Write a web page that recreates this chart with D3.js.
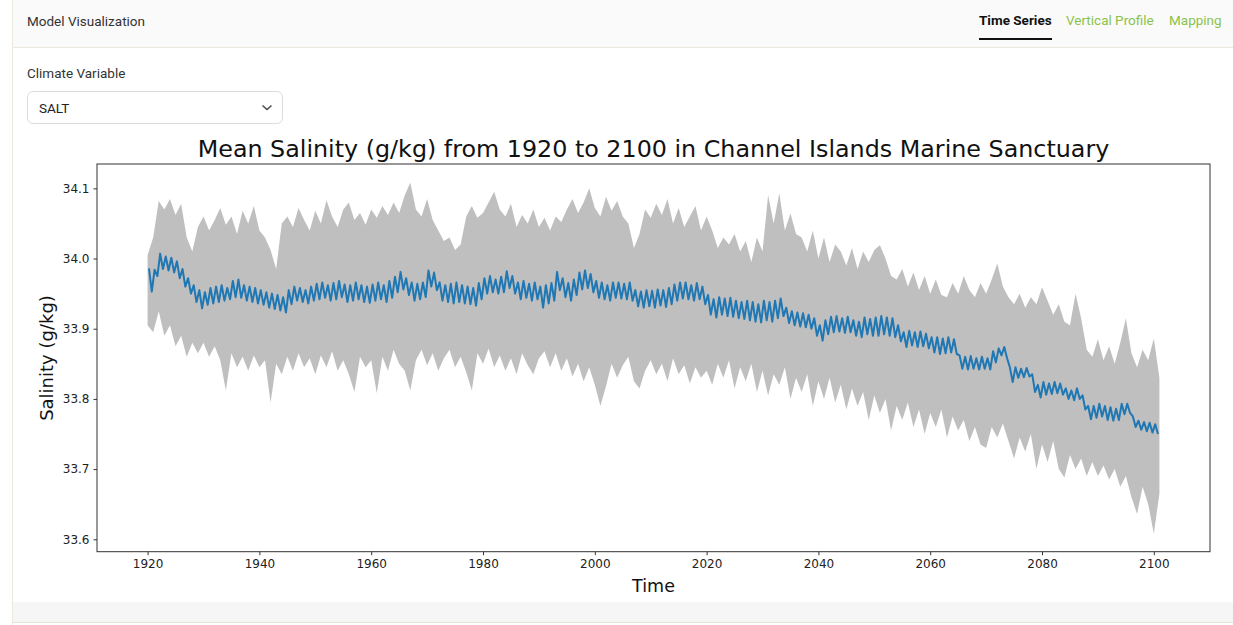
<!DOCTYPE html>
<html>
<head>
<meta charset="utf-8">
<script src="https://cdn.jsdelivr.net/npm/d3@7"></script>
<style>
  body { margin: 0; width: 1233px; height: 625px; overflow: hidden; background: #fff; position: relative;
         font-family: Roboto, "Noto Sans", sans-serif; }
  .card { position: absolute; left: 12px; top: 0; width: 1221px; height: 625px; border-left: 1px solid #ebe7dd; }
  .header { position: absolute; left: 13px; top: 0; width: 1220px; height: 47px; background: #fafafa;
            border-bottom: 1px solid #ece8dc; }
  .title { position: absolute; left: 27px; top: 13px; font-size: 13.5px; color: #333; }
  .tab { position: absolute; top: 12px; font-size: 13.5px; color: #8bc34a; }
  .tab.active { color: #111; font-weight: 700; }
  .tab.active:after { content: ""; position: absolute; left: 0; right: 0; top: 26px; height: 2px; background: #111; }
  .label { position: absolute; left: 27px; top: 65px; font-size: 13.5px; color: #333; }
  .select { position: absolute; left: 27px; top: 91px; width: 256px; height: 33px; border: 1px solid #dcdcdc;
            border-radius: 6px; box-sizing: border-box; background: #fff; }
  .select span { position: absolute; left: 11px; top: 8px; font-size: 13.5px; color: #222; }
  .footer { position: absolute; left: 13px; top: 602px; width: 1220px; height: 20px; background: #f6f6f6;
            border-bottom: 1px solid #e6e2d8; }
  #chart { position: absolute; left: 0; top: 0; }
</style>
</head>
<body>
<div class="card"></div>
<div class="header"></div>
<div class="title">Model Visualization</div>
<div class="tab active" style="left:979px">Time Series</div>
<div class="tab" style="left:1066px">Vertical Profile</div>
<div class="tab" style="left:1169px">Mapping</div>
<div class="label">Climate Variable</div>
<div class="select"><span>SALT</span>
  <svg width="12" height="8" style="position:absolute;left:233px;top:12px">
    <path d="M1.5 1.5 L6 5.5 L10.5 1.5" fill="none" stroke="#444" stroke-width="1.4"/>
  </svg>
</div>
<div class="footer"></div>
<svg id="chart" width="1233" height="625"></svg>
<script>
// annual seasonal peak / trough of the monthly mean salinity, 1920..2100
const meanHigh = [
  33.986, 33.984, 34.007, 34.003, 34.001, 33.996, 33.985, 33.972, 33.962, 33.955,
  33.952, 33.958, 33.960, 33.962, 33.958, 33.968, 33.970, 33.962, 33.960, 33.958,
  33.955, 33.952, 33.950, 33.948, 33.945, 33.955, 33.960, 33.958, 33.955, 33.960,
  33.964, 33.966, 33.962, 33.965, 33.968, 33.963, 33.962, 33.966, 33.962, 33.960,
  33.963, 33.966, 33.962, 33.968, 33.974, 33.981, 33.972, 33.966, 33.964, 33.966,
  33.983, 33.980, 33.966, 33.962, 33.964, 33.966, 33.962, 33.960, 33.958, 33.965,
  33.972, 33.975, 33.970, 33.974, 33.982, 33.975, 33.966, 33.968, 33.964, 33.966,
  33.960, 33.962, 33.965, 33.981, 33.972, 33.965, 33.970, 33.980, 33.983, 33.978,
  33.968, 33.966, 33.962, 33.966, 33.966, 33.964, 33.966, 33.955, 33.953, 33.955,
  33.954, 33.956, 33.955, 33.958, 33.963, 33.966, 33.966, 33.962, 33.965, 33.960,
  33.948, 33.942, 33.945, 33.943, 33.944, 33.940, 33.938, 33.940, 33.938, 33.935,
  33.940, 33.938, 33.940, 33.943, 33.930, 33.925, 33.923, 33.922, 33.920, 33.915,
  33.905, 33.912, 33.917, 33.918, 33.915, 33.917, 33.912, 33.910, 33.916, 33.914,
  33.916, 33.918, 33.916, 33.915, 33.905, 33.895, 33.897, 33.895, 33.896, 33.893,
  33.888, 33.888, 33.886, 33.888, 33.885, 33.862, 33.860, 33.861, 33.858, 33.860,
  33.858, 33.868, 33.872, 33.874, 33.845, 33.845, 33.843, 33.844, 33.835, 33.820,
  33.824, 33.822, 33.824, 33.822, 33.815, 33.812, 33.815, 33.805, 33.790, 33.790,
  33.793, 33.790, 33.788, 33.786, 33.793, 33.793, 33.775, 33.769, 33.767, 33.766,
  33.764
];
const meanLow = [
  33.953, 33.975, 33.985, 33.983, 33.980, 33.972, 33.960, 33.950, 33.938, 33.929,
  33.934, 33.936, 33.938, 33.940, 33.942, 33.945, 33.944, 33.940, 33.938, 33.936,
  33.934, 33.930, 33.928, 33.926, 33.923, 33.935, 33.940, 33.938, 33.936, 33.940,
  33.942, 33.944, 33.940, 33.942, 33.945, 33.938, 33.940, 33.942, 33.938, 33.937,
  33.940, 33.942, 33.938, 33.944, 33.952, 33.956, 33.948, 33.940, 33.942, 33.945,
  33.960, 33.955, 33.940, 33.938, 33.936, 33.938, 33.936, 33.935, 33.933, 33.942,
  33.950, 33.952, 33.950, 33.952, 33.958, 33.950, 33.942, 33.944, 33.940, 33.942,
  33.930, 33.936, 33.940, 33.955, 33.945, 33.940, 33.948, 33.956, 33.958, 33.952,
  33.944, 33.942, 33.940, 33.944, 33.943, 33.942, 33.940, 33.932, 33.930, 33.932,
  33.930, 33.933, 33.931, 33.935, 33.940, 33.943, 33.942, 33.940, 33.942, 33.935,
  33.920, 33.916, 33.920, 33.918, 33.917, 33.915, 33.914, 33.912, 33.910, 33.909,
  33.912, 33.910, 33.915, 33.918, 33.908, 33.905, 33.903, 33.902, 33.900, 33.890,
  33.883, 33.892, 33.895, 33.896, 33.894, 33.895, 33.890, 33.888, 33.892, 33.890,
  33.890, 33.892, 33.890, 33.888, 33.882, 33.874, 33.876, 33.874, 33.875, 33.872,
  33.866, 33.864, 33.865, 33.866, 33.864, 33.843, 33.842, 33.843, 33.842, 33.843,
  33.842, 33.852, 33.862, 33.858, 33.824, 33.830, 33.831, 33.832, 33.810, 33.802,
  33.806, 33.807, 33.808, 33.806, 33.800, 33.798, 33.800, 33.785, 33.771, 33.773,
  33.775, 33.770, 33.769, 33.770, 33.778, 33.780, 33.760, 33.756, 33.754, 33.752,
  33.750
];
// spread of the monthly values (upper / lower edge), one value per year 1920..2101
const bandUpper = [
  34.005, 34.030, 34.082, 34.070, 34.085, 34.062, 34.078, 34.030, 34.010, 34.045,
  34.060, 34.040, 34.055, 34.072, 34.048, 34.060, 34.035, 34.068, 34.050, 34.075,
  34.040, 34.030, 34.012, 33.985, 34.050, 34.060, 34.045, 34.072, 34.055, 34.040,
  34.068, 34.050, 34.083, 34.060, 34.045, 34.070, 34.080, 34.055, 34.065, 34.048,
  34.070, 34.058, 34.075, 34.062, 34.080, 34.065, 34.090, 34.108, 34.070, 34.060,
  34.085, 34.055, 34.040, 34.025, 34.030, 34.012, 34.020, 34.060, 34.075, 34.058,
  34.065, 34.080, 34.095, 34.070, 34.060, 34.078, 34.045, 34.062, 34.050, 34.070,
  34.045, 34.058, 34.040, 34.060, 34.052, 34.070, 34.085, 34.065, 34.080, 34.100,
  34.072, 34.060, 34.088, 34.068, 34.082, 34.060, 34.050, 34.015, 34.035, 34.070,
  34.058, 34.078, 34.062, 34.085, 34.050, 34.072, 34.045, 34.060, 34.075, 34.040,
  34.060, 34.040, 34.015, 34.030, 34.020, 34.035, 34.010, 34.025, 33.995, 34.030,
  34.010, 34.090, 34.050, 34.093, 34.040, 34.064, 34.035, 34.030, 34.010, 34.040,
  34.000, 34.030, 33.995, 34.020, 34.010, 33.990, 34.015, 33.985, 34.010, 33.995,
  34.012, 34.019, 34.000, 33.975, 33.970, 33.985, 33.960, 33.980, 33.955, 33.975,
  33.950, 33.970, 33.948, 33.945, 33.965, 33.950, 33.975, 33.955, 33.945, 33.965,
  33.950, 33.970, 33.993, 33.960, 33.945, 33.935, 33.950, 33.930, 33.945, 33.935,
  33.959, 33.940, 33.920, 33.935, 33.910, 33.905, 33.950, 33.915, 33.870, 33.860,
  33.885, 33.855, 33.875, 33.850, 33.880, 33.915, 33.865, 33.845, 33.870, 33.855,
  33.886, 33.830
];
const bandLower = [
  33.905, 33.895, 33.925, 33.890, 33.905, 33.875, 33.890, 33.860, 33.880, 33.865,
  33.880, 33.860, 33.875, 33.855, 33.812, 33.865, 33.845, 33.860, 33.840, 33.862,
  33.845, 33.855, 33.795, 33.850, 33.835, 33.860, 33.840, 33.865, 33.845, 33.858,
  33.835, 33.862, 33.845, 33.868, 33.840, 33.855, 33.835, 33.810, 33.860, 33.845,
  33.855, 33.808, 33.860, 33.840, 33.870, 33.850, 33.840, 33.812, 33.855, 33.870,
  33.848, 33.865, 33.840, 33.858, 33.870, 33.845, 33.860, 33.838, 33.812, 33.865,
  33.850, 33.872, 33.845, 33.862, 33.840, 33.858, 33.835, 33.865, 33.848, 33.835,
  33.858, 33.868, 33.845, 33.865, 33.840, 33.858, 33.832, 33.850, 33.825, 33.845,
  33.820, 33.790, 33.818, 33.850, 33.830, 33.848, 33.860, 33.825, 33.815, 33.840,
  33.855, 33.835, 33.850, 33.825, 33.858, 33.835, 33.848, 33.822, 33.845, 33.830,
  33.840, 33.820, 33.850, 33.830, 33.855, 33.815, 33.845, 33.825, 33.850, 33.810,
  33.840, 33.805, 33.835, 33.820, 33.845, 33.800, 33.830, 33.810, 33.835, 33.790,
  33.825, 33.800, 33.830, 33.795, 33.820, 33.785, 33.815, 33.790, 33.810, 33.770,
  33.805, 33.780, 33.800, 33.755, 33.790, 33.770, 33.795, 33.760, 33.785, 33.750,
  33.780, 33.760, 33.785, 33.745, 33.775, 33.755, 33.770, 33.740, 33.760, 33.735,
  33.730, 33.760, 33.745, 33.765, 33.740, 33.715, 33.745, 33.725, 33.750, 33.700,
  33.735, 33.710, 33.740, 33.700, 33.688, 33.720, 33.700, 33.715, 33.690, 33.710,
  33.690, 33.705, 33.685, 33.700, 33.675, 33.690, 33.660, 33.636, 33.675, 33.650,
  33.608, 33.665
];
const xTicks = [1920, 1940, 1960, 1980, 2000, 2020, 2040, 2060, 2080, 2100];
const yTicks = [33.6, 33.7, 33.8, 33.9, 34.0, 34.1];

const plotLeft = 97, plotRight = 1210, plotTop = 164, plotBottom = 551.7;
const x = d3.scaleLinear().domain([1910.95, 2110.05]).range([plotLeft, plotRight]);
const y = d3.scaleLinear().domain([33.5823, 34.1347]).range([plotBottom, plotTop]);

const svg = d3.select('#chart');
const font = '"DejaVu Sans", sans-serif';

const meanPts = [];
meanHigh.forEach((v, i) => {
  meanPts.push([1920 + i + 0.25, v]);
  meanPts.push([1920 + i + 0.75, meanLow[i]]);
});
const bandPts = bandUpper.map((v, i) => [1920 + i, v, bandLower[i]]);

const plot = svg.append('g');
plot.append('path')
  .datum(bandPts)
  .attr('fill', '#bfbfbf')
  .attr('d', d3.area().x(d => x(d[0])).y0(d => y(d[2])).y1(d => y(d[1])));

plot.append('path')
  .datum(meanPts)
  .attr('fill', 'none')
  .attr('stroke', '#1f77b4')
  .attr('stroke-width', 2)
  .attr('stroke-linejoin', 'round')
  .attr('d', d3.line().x(d => x(d[0])).y(d => y(d[1])));

// axes
const xAxis = svg.append('g')
  .attr('transform', `translate(0,${plotBottom})`)
  .call(d3.axisBottom(x).tickValues(xTicks).tickFormat(d3.format('d')).tickSize(3.5).tickSizeOuter(0).tickPadding(4));
const yAxis = svg.append('g')
  .attr('transform', `translate(${plotLeft},0)`)
  .call(d3.axisLeft(y).tickValues(yTicks).tickFormat(d3.format('.1f')).tickSize(3.5).tickSizeOuter(0).tickPadding(4));
[xAxis, yAxis].forEach(a => {
  a.select('.domain').remove();
  a.selectAll('line').attr('stroke', '#333').attr('stroke-width', 1);
  a.selectAll('text').attr('font-family', font).attr('font-size', 12).attr('fill', '#222');
});

svg.append('rect')
  .attr('x', plotLeft).attr('y', plotTop)
  .attr('width', plotRight - plotLeft).attr('height', plotBottom - plotTop)
  .attr('fill', 'none').attr('stroke', '#333').attr('stroke-width', 1);

svg.append('text')
  .attr('x', (plotLeft + plotRight) / 2).attr('y', 157)
  .attr('text-anchor', 'middle')
  .attr('font-family', font).attr('font-size', 23.8).attr('fill', '#111')
  .text('Mean Salinity (g/kg) from 1920 to 2100 in Channel Islands Marine Sanctuary');

svg.append('text')
  .attr('x', (plotLeft + plotRight) / 2).attr('y', 592)
  .attr('text-anchor', 'middle')
  .attr('font-family', font).attr('font-size', 17.5).attr('fill', '#111')
  .text('Time');

svg.append('text')
  .attr('transform', `translate(53,358) rotate(-90)`)
  .attr('text-anchor', 'middle')
  .attr('font-family', font).attr('font-size', 18).attr('fill', '#111')
  .text('Salinity (g/kg)');
</script>
</body>
</html>
